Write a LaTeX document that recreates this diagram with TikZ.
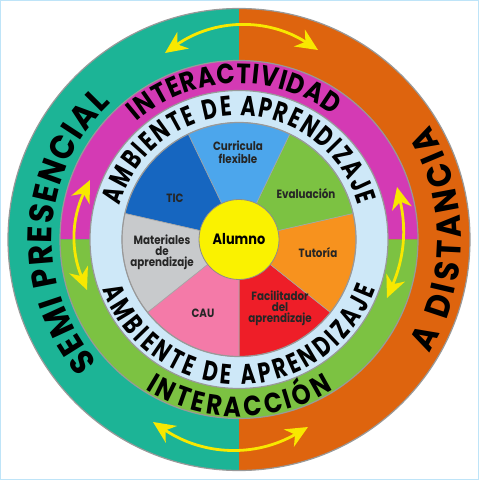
\documentclass[tikz,border=0pt]{standalone}
\usepackage{fontspec}
\setmainfont{Poppins}
\newfontfamily\ringfont[FakeStretch=0.74]{Poppins}
\newfontfamily\midfont[FakeStretch=0.86]{Poppins}
\newfontfamily\outerfont[FakeStretch=0.92]{Poppins}
\newfontfamily\labfont[FakeStretch=0.86]{Poppins}
\usetikzlibrary{decorations.text,arrows.meta}
\definecolor{cteal}{RGB}{28,180,150}
\definecolor{corange}{RGB}{222,100,14}
\definecolor{cmag}{RGB}{212,58,180}
\definecolor{cgreen}{RGB}{124,194,66}
\definecolor{clight}{RGB}{206,232,248}
\definecolor{ctic}{RGB}{22,102,192}
\definecolor{ccurr}{RGB}{76,166,236}
\definecolor{ceval}{RGB}{124,194,66}
\definecolor{ctut}{RGB}{247,146,30}
\definecolor{cfac}{RGB}{238,30,40}
\definecolor{ccau}{RGB}{244,122,168}
\definecolor{cmat}{RGB}{200,202,204}
\definecolor{calum}{RGB}{250,242,0}
\definecolor{carrow}{RGB}{248,232,0}
\definecolor{cframe}{RGB}{190,228,248}
\tikzset{
  ringedge/.style={draw=black!40, line width=1.2pt},
  sector/.style={draw=black!35, line width=0.6pt},
  lab/.style={font=\labfont\bfseries\fontsize{12}{11}\selectfont, text=black!85, align=center, inner sep=0pt},
  yarrow/.style={carrow, line width=2.8pt,
    {Stealth[length=22pt,width=20pt,inset=7pt]}-{Stealth[length=22pt,width=20pt,inset=7pt]}},
  arctext/.style={decorate, decoration={text along path, text align=fit to path, text={#1}}}
}
\begin{document}
\begin{tikzpicture}[x=1pt,y=1pt]
\useasboundingbox (0,0) rectangle (479,480);
\fill[white] (0,0) rectangle (479,480);
\draw[cframe, line width=2.5pt] (0,0) rectangle (479,480);
\coordinate (C) at (239,240.5);
% outer ring
\fill[cteal] ([shift={(90:231)}]C) arc[start angle=90,end angle=270,radius=231] -- cycle;
\fill[corange] ([shift={(-90:231)}]C) arc[start angle=-90,end angle=90,radius=231] -- cycle;
\path[ringedge] (C) circle[radius=231];
% second ring
\fill[cmag] ([shift={(0:179)}]C) arc[start angle=0,end angle=180,radius=179] -- cycle;
\fill[cgreen] ([shift={(180:179)}]C) arc[start angle=180,end angle=360,radius=179] -- cycle;
\path[ringedge] (C) circle[radius=179];
% light ring
\fill[clight] (C) circle[radius=149];
\path[ringedge] (C) circle[radius=149];
% pie
\foreach \a/\c in {270/cfac, 321.43/ctut, 372.86/ceval, 424.29/ccurr, 475.71/ctic, 527.14/cmat, 578.57/ccau}
  \filldraw[sector, fill=\c] (C) -- ([shift={(\a:117)}]C) arc[start angle=\a, delta angle=51.43, radius=117] -- cycle;
\path[ringedge] (C) circle[radius=117];
\node[circle, fill=calum, draw=black!45, line width=0.8pt, minimum size=80pt, inner sep=0pt,
  font=\labfont\bfseries\fontsize{15}{14}\selectfont] (alumno) at (C) {Alumno};
% pie labels
\node[lab] (curr) at (238,328) {Curricula\\[1.5pt]flexible};
\node[lab] (tic) at (175,282) {TIC};
\node[lab] (eval) at (306,286) {Evaluación};
\node[lab] (tut) at (318,227) {Tutoría};
\node[lab] (fac) at (280,172) {Facilitador\\del\\aprendizaje};
\node[lab] (cau) at (203,167) {CAU};
\node[lab] (mat) at (162,228) {Materiales\\de\\aprendizaje};
% curved texts
\path[arctext={|\ringfont\bfseries\fontsize{28}{28}\selectfont|AMBIENTE DE APRENDIZAJE}]
  ([shift={(164:124)}]C) arc[start angle=164,end angle=16,radius=124];
\path[arctext={|\ringfont\bfseries\fontsize{28}{28}\selectfont|AMBIENTE DE APRENDIZAJE}]
  ([shift={(200:145)}]C) arc[start angle=200,end angle=340,radius=145];
\path[arctext={|\midfont\bfseries\fontsize{28}{28}\selectfont|INTERACTIVIDAD}]
  ([shift={(131:156)}]C) arc[start angle=131,end angle=53,radius=156];
\path[arctext={|\midfont\bfseries\fontsize{28}{28}\selectfont|INTERACCIÓN}]
  ([shift={(238:177)}]C) arc[start angle=238,end angle=302,radius=177];
\path[arctext={|\outerfont\bfseries\fontsize{34}{34}\selectfont|SEMI PRESENCIAL}]
  ([shift={(221:187)}]C) arc[start angle=221,end angle=133,radius=187];
\path[arctext={|\outerfont\bfseries\fontsize{34}{34}\selectfont|A DISTANCIA}]
  ([shift={(-31:222)}]C) arc[start angle=-31,end angle=31,radius=222];
% arrows
\coordinate (t1) at (165,427);
\coordinate (t2) at (318,430);
\coordinate (b1) at (153,58);
\coordinate (b2) at (308,53);
\coordinate (l1) at (90,300);
\coordinate (l2) at (87,190);
\coordinate (r1) at (397,293);
\coordinate (r2) at (387,182);
\draw[yarrow] (t1) to[bend left=34] (t2);
\draw[yarrow] (b1) to[bend right=32] (b2);
\draw[yarrow] (l1) to[bend right=24] (l2);
\draw[yarrow] (r1) to[bend left=18] (r2);
\end{tikzpicture}
\end{document}
